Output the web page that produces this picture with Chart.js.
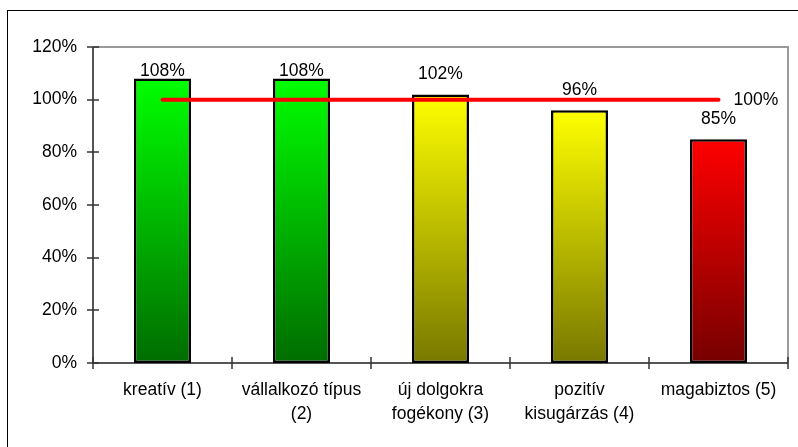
<!DOCTYPE html>
<html>
<head>
<meta charset="utf-8">
<script src="https://cdn.jsdelivr.net/npm/chart.js@4.4.1/dist/chart.umd.min.js"></script>
<style>
  html, body { margin: 0; padding: 0; background: #fff; }
  #wrap { width: 798px; height: 447px; position: relative; }
</style>
</head>
<body>
<div id="wrap"><canvas id="c" width="798" height="447"></canvas></div>
<script>
// Category labels (multi-line where the text wraps)
const categories = [
  ['kreatív (1)'],
  ['vállalkozó típus', '(2)'],
  ['új dolgokra', 'fogékony (3)'],
  ['pozitív', 'kisugárzás (4)'],
  ['magabiztos (5)']
];
// Score per trait, in percent
const scores = [108, 108, 102, 96, 85];
// Reference level
const target = [100, 100, 100, 100, 100];
const targetLabel = '100%';
// Y axis range and step, in percent
const yMin = 0, yMax = 120, yStep = 20;

// Colour band of each bar: [top, bottom] of the vertical gradient
const bands = {
  green: ['#00ff00', '#006c00'],
  yellow: ['#ffff00', '#787800'],
  red: ['#ff0000', '#760000']
};
const barBand = ['green', 'green', 'yellow', 'yellow', 'red'];

const FONT = "'Liberation Sans', Arial, sans-serif";
const FS = 17.5;

function barGradient(ctx) {
  const chart = ctx.chart;
  const area = chart.chartArea;
  if (!area || ctx.type !== 'data') return '#0f0';
  const y = chart.scales.y;
  const top = y.getPixelForValue(ctx.raw);
  const bottom = y.getPixelForValue(0);
  const [c0, c1] = bands[barBand[ctx.dataIndex]];
  const g = chart.ctx.createLinearGradient(0, top, 0, bottom);
  g.addColorStop(0, c0);
  g.addColorStop(1, c1);
  return g;
}

// Outer frame, plot frame, axis lines and tick marks
const framePlugin = {
  id: 'frame',
  beforeDraw(chart) {
    const c = chart.ctx;
    c.save();
    c.fillStyle = '#fff';
    c.fillRect(0, 0, chart.width, chart.height);
    c.strokeStyle = '#000';
    c.lineWidth = 1;
    c.strokeRect(7.5, 10.5, 900, 900);
    c.restore();
  },
  beforeDatasetsDraw(chart) {
    const c = chart.ctx;
    const a = chart.chartArea;
    c.save();
    // top and right border of the plot
    c.strokeStyle = '#999';
    c.lineWidth = 2;
    c.beginPath();
    c.moveTo(a.left, a.top);
    c.lineTo(a.right, a.top);
    c.lineTo(a.right, a.bottom);
    c.stroke();
    // axis lines
    c.strokeStyle = '#555';
    c.beginPath();
    c.moveTo(a.left, a.top);
    c.lineTo(a.left, a.bottom);
    c.lineTo(a.right, a.bottom);
    c.stroke();
    // y ticks crossing the axis
    c.strokeStyle = '#333';
    c.lineWidth = 1.5;
    const ys = chart.scales.y;
    ys.ticks.forEach(t => {
      const py = Math.round(ys.getPixelForValue(t.value));
      c.beginPath();
      c.moveTo(a.left - 6, py);
      c.lineTo(a.left + 6, py);
      c.stroke();
    });
    // x ticks at category boundaries
    const n = categories.length;
    const w = (a.right - a.left) / n;
    for (let i = 0; i <= n; i++) {
      const px = Math.round(a.left + i * w);
      c.beginPath();
      c.moveTo(px, a.bottom - 6);
      c.lineTo(px, a.bottom + 6);
      c.stroke();
    }
    c.restore();
  },
  afterDatasetsDraw(chart) {
    const c = chart.ctx;
    const a = chart.chartArea;
    c.save();
    c.fillStyle = '#000';
    c.font = FS + 'px ' + FONT;
    c.textAlign = 'center';
    c.textBaseline = 'alphabetic';
    const barMeta = chart.getDatasetMeta(1);
    barMeta.data.forEach((bar, i) => {
      const y = Math.max(bar.y - 15, a.top + 29);
      c.fillText(scores[i] + '%', bar.x, y);
    });
    const lineMeta = chart.getDatasetMeta(0);
    const last = lineMeta.data[lineMeta.data.length - 1];
    c.textAlign = 'left';
    c.textBaseline = 'middle';
    c.fillText(targetLabel, last.x + 15, last.y + 1);
    c.restore();
  }
};

new Chart(document.getElementById('c'), {
  data: {
    labels: categories,
    datasets: [
      {
        type: 'line',
        data: target,
        borderColor: '#ff0000',
        borderWidth: 4,
        borderCapStyle: 'round',
        pointRadius: 0,
        pointHoverRadius: 0,
        fill: false,
        order: 0
      },
      {
        type: 'bar',
        data: scores,
        backgroundColor: barGradient,
        borderColor: '#000',
        borderWidth: 2.5,
        borderSkipped: false,
        categoryPercentage: 1,
        barPercentage: 0.41,
        order: 1
      }
    ]
  },
  options: {
    responsive: false,
    animation: false,
    devicePixelRatio: 1,
    layout: { padding: { top: 47, right: 10, left: 0, bottom: 0 } },
    plugins: { legend: { display: false }, tooltip: { enabled: false } },
    scales: {
      x: {
        offset: true,
        grid: { display: false, drawTicks: false },
        border: { display: false },
        ticks: {
          color: '#000',
          font: { family: FONT, size: FS, lineHeight: 1.37 },
          maxRotation: 0,
          autoSkip: false,
          padding: 15
        },
        afterFit(s) { s.height = 84; }
      },
      y: {
        min: yMin,
        max: yMax,
        grid: { display: false, drawTicks: false },
        border: { display: false },
        ticks: {
          stepSize: yStep,
          color: '#000',
          font: { family: FONT, size: FS },
          padding: 16,
          callback: v => v + '%'
        },
        afterFit(s) { s.width = 93; }
      }
    }
  },
  plugins: [framePlugin]
});
</script>
</body>
</html>
